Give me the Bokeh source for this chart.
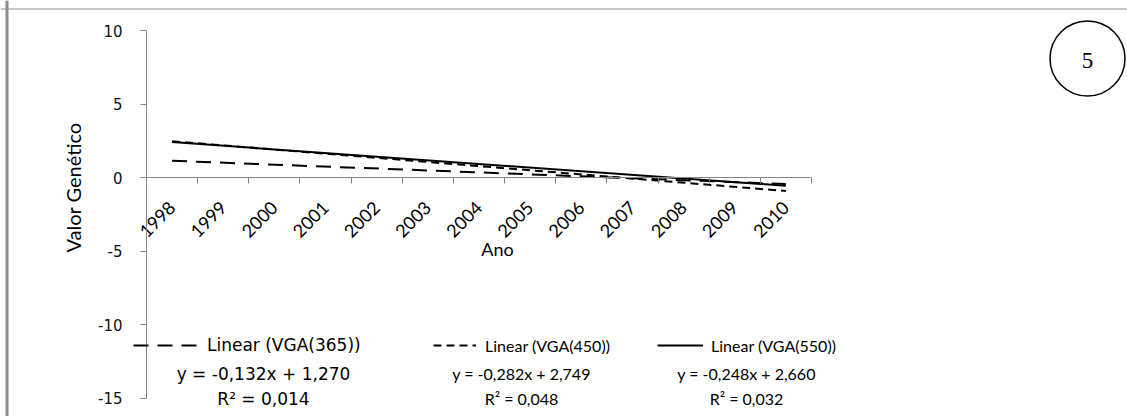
import math
from bokeh.plotting import figure
from bokeh.models import (Range1d, LinearAxis, FixedTicker, Label, Legend, LegendItem,
                          CustomJSTickFormatter, Span)
from bokeh.embed import file_html
from bokeh.resources import INLINE

# ---- data ----
years = ["1998", "1999", "2000", "2001", "2002", "2003", "2004",
         "2005", "2006", "2007", "2008", "2009", "2010"]
series = ["VGA(365)", "VGA(450)", "VGA(550)"]
slopes = [-0.132, -0.282, -0.248]
intercepts = [1.270, 2.749, 2.660]
eq_texts = ["y = -0,132x + 1,270", "y = -0,282x + 2,749", "y = -0,248x + 2,660"]
r2_texts = ["R\u00b2 = 0,014", "R\u00b2 = 0,048", "R\u00b2 = 0,032"]
y_ticks = [-15, -10, -5, 0, 5, 10]
y_tick_labels = ["-15", "-10", "-5", "0", "5", "10"]

# ---- layout constants (pixels of the page) ----
PX_PER_X = 51.15          # one category
PX_PER_Y = 14.7           # one unit of value
X0_PX, Y10_PX = 146, 30   # pixel of x=0.5 and y=10
W, H = 1127, 416


def dx(px):
    return 0.5 + (px - X0_PX) / PX_PER_X


def dy(py):
    return 10 - (py - Y10_PX) / PX_PER_Y


p = figure(width=W, height=H, output_backend="svg", toolbar_location=None,
           x_range=Range1d(dx(0), dx(W)), y_range=Range1d(dy(H), dy(0)),
           x_axis_type=None, y_axis_type=None,
           min_border_left=0, min_border_top=0,
           min_border_right=0, min_border_bottom=0)
p.outline_line_color = None
p.background_fill_color = "white"

# chart-area border (left and top only visible)
p.add_layout(Span(location=dx(6.5), dimension="height", line_color="#8c8c8c", line_width=3))
p.add_layout(Span(location=dy(8.5), dimension="width", line_color="#8c8c8c", line_width=1))

AX_COL = "#868686"

# y axis crossing at the first category edge
yax = LinearAxis(ticker=FixedTicker(ticks=y_ticks), fixed_location=0.5, bounds=(-15, 10),
                 major_label_overrides={t: s for t, s in zip(y_ticks, y_tick_labels)})
yax.axis_line_color = AX_COL
yax.major_tick_line_color = AX_COL
yax.major_tick_out = 6
yax.major_tick_in = 0
yax.minor_tick_line_color = None
yax.major_label_text_font = "DejaVu Sans"
yax.major_label_text_font_size = "15px"
yax.major_label_text_color = "#111111"
yax.major_label_standoff = 18
p.add_layout(yax, "left")

# x axis line + tick marks between categories, at y = 0
n = len(years)
xtick_ax = LinearAxis(ticker=FixedTicker(ticks=[0.5 + i for i in range(n + 1)]),
                      fixed_location=0, bounds=(0.5, n + 0.5))
xtick_ax.axis_line_color = AX_COL
xtick_ax.major_tick_line_color = AX_COL
xtick_ax.major_tick_out = 6
xtick_ax.major_tick_in = 0
xtick_ax.minor_tick_line_color = None
xtick_ax.formatter = CustomJSTickFormatter(code="return ''")
p.add_layout(xtick_ax, "below")

# category labels
xlab_ax = LinearAxis(ticker=FixedTicker(ticks=list(range(1, n + 1))), fixed_location=0,
                     major_label_overrides={i + 1: yv for i, yv in enumerate(years)})
xlab_ax.axis_line_color = None
xlab_ax.major_tick_line_color = None
xlab_ax.minor_tick_line_color = None
xlab_ax.major_label_orientation = math.pi / 4
xlab_ax.major_label_text_font = "Lato"
xlab_ax.major_label_text_font_size = "18px"
xlab_ax.major_label_text_color = "black"
xlab_ax.major_label_standoff = 21
p.add_layout(xlab_ax, "below")

# trendlines
dashes = ["15 9", "8 5", "solid"]
renderers = []
for m, b, d in zip(slopes, intercepts, dashes):
    xs = [1, n]
    ys = [m * x + b for x in xs]
    r = p.line(xs, ys, line_color="black", line_width=2, line_dash=d)
    renderers.append(r)

# legends
leg_specs = [
    (133, 67, 7, "DejaVu Sans", "17px"),
    (433, 43, 9, "Lato", "16px"),
    (657, 46, 8, "Lato", "16px"),
]
for name, r, (lx, gw, so, font, fs) in zip(series, renderers, leg_specs):
    leg = Legend(items=[LegendItem(label="Linear (" + name + ")", renderers=[r])],
                 location=(lx, H - 355), orientation="horizontal",
                 glyph_width=gw, glyph_height=20, label_height=20, label_standoff=so,
                 padding=0, margin=0, border_line_color=None, background_fill_alpha=0,
                 label_text_font=font, label_text_font_size=fs, label_text_color="black")
    p.add_layout(leg)

# equations
eq_pos = [(263, "DejaVu Sans", "17px"), (521, "Lato", "16px"), (746, "Lato", "16px")]
for eq, r2, (cx, font, fs) in zip(eq_texts, r2_texts, eq_pos):
    p.add_layout(Label(x=dx(cx), y=dy(373), text=eq, text_align="center",
                       text_baseline="middle", text_font=font,
                       text_font_size=fs, text_color="black"))
    p.add_layout(Label(x=dx(cx), y=dy(398), text=r2, text_align="center",
                       text_baseline="middle", text_font=font,
                       text_font_size=fs, text_color="black"))

# axis titles
p.add_layout(Label(x=dx(497), y=dy(248), text="Ano", text_align="center",
                   text_baseline="middle", text_font="Lato",
                   text_font_size="18px", text_color="black"))
p.add_layout(Label(x=dx(72), y=dy(187), text="Valor Genético", angle=math.pi / 2,
                   text_align="center", text_baseline="middle", text_font="Lato",
                   text_font_size="20px", text_color="black"))

# circled number
p.scatter([dx(1087)], [dy(58)], marker="circle", size=75, fill_color=None,
          line_color="black", line_width=1.5)
p.add_layout(Label(x=dx(1087), y=dy(60), text="5", text_align="center",
                   text_baseline="middle", text_font="Liberation Serif",
                   text_font_size="23px", text_color="black"))

open("out.html", "w").write(file_html(p, INLINE))
